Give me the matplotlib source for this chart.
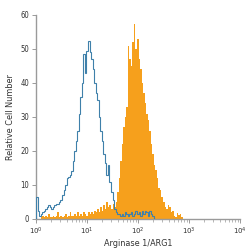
import numpy as np
import matplotlib
matplotlib.use("Agg")
import matplotlib.pyplot as plt
from matplotlib.ticker import LogLocator, FixedLocator

# bin width in decades
bin_width = 0.03

# Isotype control (blue outline), bins start at 10^0
blue_start = 0.0
blue_counts = [6.5, 2.5, 1, 1.5, 2, 2.5, 3, 3.5, 4, 3.5, 3, 3.5, 4, 4.5, 4.5, 5, 5.5, 7, 8.5, 10,
               12, 12.5, 13, 14, 17, 20, 23, 26, 31, 36, 40, 48.5, 43, 49.5, 52.5, 49, 47, 44, 40, 37,
               35, 30, 26, 23, 19, 16.5, 13, 16, 11, 8, 5.5, 3, 2, 1.5, 1.5, 1, 1.5, 1, 2, 1.5,
               1, 1.5, 2, 1, 1.5, 2.5, 1.5, 2, 1, 2.5, 1.5, 2.5, 2, 1, 2.5, 1.5, 1, 0]

# Arginase 1/ARG1 staining (orange filled), bins start at 10^0.06
orange_start = 0.06
orange_counts = [0, 0.5, 1, 0.5, 1, 0.5, 1.5, 0.5, 0.5, 1, 0.5, 1, 2, 0.5, 1, 0.5, 1, 1.5, 0.5, 1,
                 2, 1, 1, 1.5, 1, 2, 1, 1.5, 1, 2, 1.5, 1, 2, 1.5, 2, 1.5, 2.5, 2, 3, 2,
                 3.5, 2.5, 4, 3, 5, 3.5, 4, 3, 4.5, 3.5, 5, 8, 12, 17, 22, 27, 30, 33, 51, 47,
                 45, 52, 57.5, 50, 53, 47, 44, 40, 37, 34, 31, 29, 26, 22, 19, 16, 14.5, 12, 9, 8.5,
                 6.5, 5, 3.5, 3, 4, 3.5, 2, 2.5, 1, 0.7, 1.8, 1.2, 1.5, 0.5, 0]

y_ticks = [0, 10, 20, 30, 40, 50, 60]
x_ticks = [1, 10, 100, 1000, 10000]
x_tick_labels = ["$10^{0}$", "$10^{1}$", "$10^{2}$", "$10^{3}$", "$10^{4}$"]
x_label = "Arginase 1/ARG1"
y_label = "Relative Cell Number"

orange_color = "#F6A01C"
blue_color = "#3F80AA"
spine_color = "#9A9A9A"
text_color = "#333333"

fig = plt.figure(figsize=(2.5, 2.5), dpi=100)
ax = fig.add_axes([0.144, 0.124, 0.816, 0.816])

be = 10 ** (blue_start + bin_width * np.arange(len(blue_counts) + 1))
oe = 10 ** (orange_start + bin_width * np.arange(len(orange_counts) + 1))

ax.stairs(orange_counts, oe, fill=True, color=orange_color, linewidth=0, zorder=2)
ax.stairs(blue_counts, be, baseline=0, fill=False, color=blue_color, linewidth=0.8, zorder=3)

ax.set_xscale("log")
ax.set_xlim(1, 10000)
ax.set_ylim(0, 60)

for s in ["top", "right"]:
    ax.spines[s].set_visible(False)
for s in ["left", "bottom"]:
    ax.spines[s].set_color(spine_color)
    ax.spines[s].set_linewidth(1.0)

ax.yaxis.set_major_locator(FixedLocator(y_ticks))
ax.xaxis.set_major_locator(FixedLocator(x_ticks))
ax.set_xticklabels(x_tick_labels)
ax.xaxis.set_minor_locator(LogLocator(base=10, subs=np.arange(2, 10)))
ax.xaxis.set_minor_formatter(plt.NullFormatter())

ax.tick_params(axis="both", which="major", direction="out", length=3, width=0.7,
               color=spine_color, labelcolor=text_color, labelsize=5.5, pad=2)
ax.tick_params(axis="x", which="major", labelsize=5)
ax.tick_params(axis="x", which="minor", direction="out", length=2, width=0.5, color=spine_color)

font = dict(family="DejaVu Sans", stretch="condensed", size=6.5, color=text_color)
ax.set_xlabel(x_label, fontdict=font, labelpad=1.5)
ax.set_ylabel(y_label, fontdict=font, labelpad=4)
for lab in ax.get_yticklabels():
    lab.set_fontstretch("condensed")

fig.savefig("out.png", dpi=100)
